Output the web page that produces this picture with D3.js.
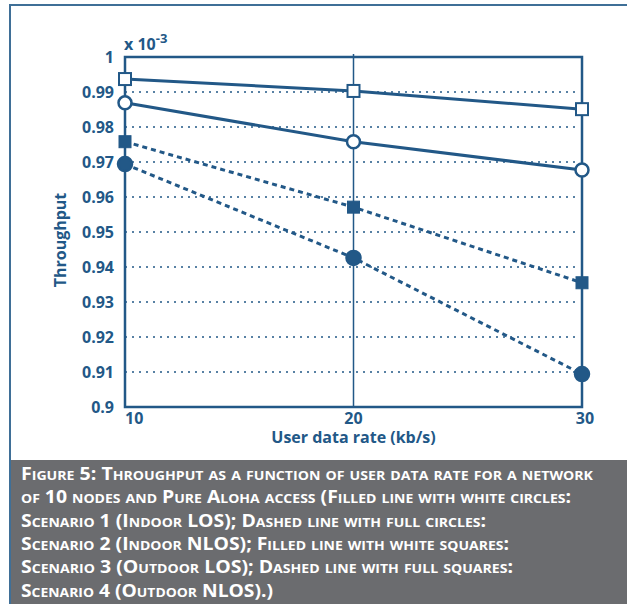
<!DOCTYPE html>
<html>
<head>
<meta charset="utf-8">
<script src="https://cdn.jsdelivr.net/npm/d3@7"></script>
<style>
  body { margin: 0; background: #fff; }
  svg { display: block; }
  text { font-family: "Open Sans", "DejaVu Sans", sans-serif; }
</style>
</head>
<body>
<div class="graph"></div>
<script>
var width = 627,
    height = 604;

// data
var rates = [10, 20, 30];
var scenario1 = [0.9869, 0.9758, 0.9677]; // indoor LOS, solid, white circles
var scenario2 = [0.9694, 0.9426, 0.9094]; // indoor NLOS, dashed, full circles
var scenario3 = [0.9937, 0.9903, 0.9851]; // outdoor LOS, solid, white squares
var scenario4 = [0.9758, 0.9571, 0.9355]; // outdoor NLOS, dashed, full squares
var yTicks = [0.9, 0.91, 0.92, 0.93, 0.94, 0.95, 0.96, 0.97, 0.98, 0.99, 1];
var yTickLabels = ["0.9", "0.91", "0.92", "0.93", "0.94", "0.95", "0.96", "0.97", "0.98", "0.99", "1"];
var xTickLabels = ["10", "20", "30"];
var captionLines = [
  "Figure 5: Throughput as a function of user data rate for a network",
  "of 10 nodes and Pure Aloha access (Filled line with white circles:",
  "Scenario 1 (Indoor LOS); Dashed line with full circles:",
  "Scenario 2 (Indoor NLOS); Filled line with white squares:",
  "Scenario 3 (Outdoor LOS); Dashed line with full squares:",
  "Scenario 4 (Outdoor NLOS).)"
];
var captionWidths = [572, 550, 465, 488, 492, 252];

var blue = "#225887";

var svg = d3.select(".graph").append("svg")
    .attr("width", width)
    .attr("height", height);

// outer frame
svg.append("rect")
    .attr("x", 10).attr("y", 5)
    .attr("width", 640).attr("height", 620)
    .attr("fill", "none")
    .attr("stroke", "#3f6f97")
    .attr("stroke-width", 2);

var plotLeft = 125, plotRight = 582, plotTop = 57, plotBottom = 407;

var x = d3.scaleLinear().domain([10, 30]).range([plotLeft, plotRight]);
var y = d3.scaleLinear().domain([0.9, 1]).range([plotBottom, plotTop]);

var g = svg.append("g");

// dotted grid
g.selectAll(".grid")
    .data(yTicks.slice(1, -1))
    .enter().append("line")
      .attr("x1", plotLeft).attr("x2", plotRight - 3)
      .attr("y1", function(d) { return y(d); })
      .attr("y2", function(d) { return y(d); })
      .attr("stroke", blue)
      .attr("stroke-width", 1.3)
      .attr("stroke-dasharray", "2,5");

// vertical line at 20
g.append("line")
    .attr("x1", x(20)).attr("x2", x(20))
    .attr("y1", plotTop - 3).attr("y2", plotBottom)
    .attr("stroke", blue)
    .attr("stroke-width", 1.5);

// plot frame
g.append("rect")
    .attr("x", plotLeft).attr("y", plotTop)
    .attr("width", plotRight - plotLeft).attr("height", plotBottom - plotTop)
    .attr("fill", "none")
    .attr("stroke", blue)
    .attr("stroke-width", 2.5);

// y axis labels
g.selectAll(".ylab")
    .data(yTicks)
    .enter().append("text")
      .attr("x", plotLeft - 11)
      .attr("y", function(d) { return y(d) + 6; })
      .attr("text-anchor", "end")
      .attr("font-size", 16)
      .attr("font-weight", "bold")
      .attr("fill", blue)
      .text(function(d, i) { return yTickLabels[i]; });

// x axis labels
g.selectAll(".xlab")
    .data(rates)
    .enter().append("text")
      .attr("x", function(d, i) { return i == 0 ? x(d) : x(d) + (i == 2 ? 3 : 0); })
      .attr("y", 424)
      .attr("text-anchor", function(d, i) { return i == 0 ? "start" : "middle"; })
      .attr("font-size", 16)
      .attr("font-weight", "bold")
      .attr("fill", blue)
      .text(function(d, i) { return xTickLabels[i]; });

// axis titles
g.append("text")
    .attr("x", x(20))
    .attr("y", 443)
    .attr("text-anchor", "middle")
    .attr("font-size", 16)
    .attr("font-weight", "bold")
    .attr("fill", blue)
    .text("User data rate (kb/s)");

g.append("text")
    .attr("transform", "translate(66,240) rotate(-90)")
    .attr("text-anchor", "middle")
    .attr("font-size", 16)
    .attr("font-weight", "bold")
    .attr("fill", blue)
    .text("Throughput");

var mult = g.append("text")
    .attr("x", plotLeft - 1)
    .attr("y", 50)
    .attr("font-size", 16)
    .attr("font-weight", "bold")
    .attr("fill", blue);
mult.append("tspan").text("x 10");
mult.append("tspan").attr("dy", -7).attr("font-size", 13).text("-3");

// series
var series = [
  { values: scenario1, dashed: false, shape: "circle", fill: "#fff" },
  { values: scenario2, dashed: true,  shape: "circle", fill: blue },
  { values: scenario3, dashed: false, shape: "square", fill: "#fff" },
  { values: scenario4, dashed: true,  shape: "square", fill: blue }
];

var line = d3.line()
    .x(function(d, i) { return x(rates[i]); })
    .y(function(d) { return y(d); });

series.forEach(function(s) {
  g.append("path")
      .attr("d", line(s.values))
      .attr("fill", "none")
      .attr("stroke", blue)
      .attr("stroke-width", 3)
      .attr("stroke-dasharray", s.dashed ? "5,4" : null);
});

series.forEach(function(s) {
  var pts = g.selectAll(null).data(s.values).enter();
  if (s.shape == "circle") {
    pts.append("circle")
        .attr("cx", function(d, i) { return x(rates[i]); })
        .attr("cy", function(d) { return y(d); })
        .attr("r", s.fill == blue ? 7 : 6.5)
        .attr("fill", s.fill)
        .attr("stroke", blue)
        .attr("stroke-width", 2.5);
  } else {
    pts.append("rect")
        .attr("x", function(d, i) { return x(rates[i]) - 6; })
        .attr("y", function(d) { return y(d) - 6; })
        .attr("width", 12).attr("height", 12)
        .attr("fill", s.fill)
        .attr("stroke", blue)
        .attr("stroke-width", s.fill == blue ? 1 : 2);
  }
});

// caption box
svg.append("rect")
    .attr("x", 11).attr("y", 460)
    .attr("width", 620).attr("height", 150)
    .attr("fill", "#6b6c6f");

svg.selectAll(".cap")
    .data(captionLines)
    .enter().append("text")
      .attr("x", 21)
      .attr("y", function(d, i) { return 480 + i * 23.3; })
      .attr("font-size", 18)
      .attr("font-weight", "bold")
      .attr("font-variant", "small-caps")
      .attr("fill", "#fff")
      .attr("textLength", function(d, i) { return captionWidths[i]; })
      .attr("lengthAdjust", "spacingAndGlyphs")
      .text(function(d) { return d; });
</script>
</body>
</html>
